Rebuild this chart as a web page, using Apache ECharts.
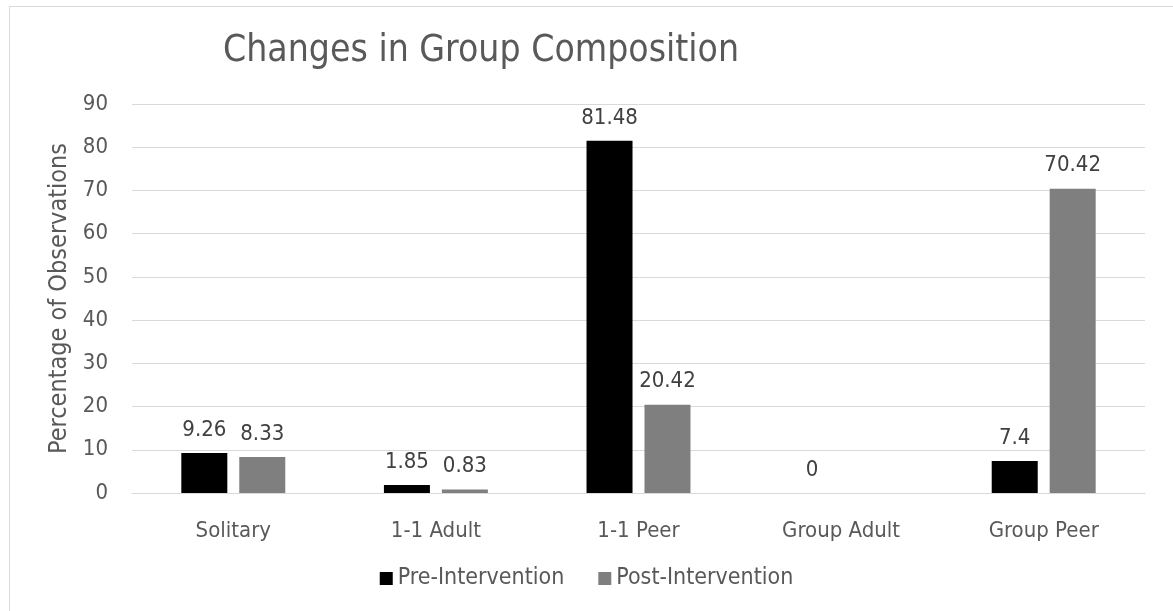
<!DOCTYPE html>
<html>
<head>
<meta charset="utf-8">
<script src="https://cdn.jsdelivr.net/npm/echarts@6/dist/echarts.min.js"></script>
<style>
  html, body { margin: 0; padding: 0; background: #fff; }
  #chart { width: 1173px; height: 611px; }
</style>
</head>
<body>
<div id="chart"></div>
<script>
// Group composition categories and percentages per phase
const categories = ['Solitary', '1-1 Adult', '1-1 Peer', 'Group Adult', 'Group Peer'];
const preIntervention = [9.26, 1.85, 81.48, 0, 7.4];
const postIntervention = [8.33, 0.83, 20.42, null, 70.42];
const yTicks = { min: 0, max: 90, interval: 10 };

const FONT = '"DejaVu Sans Condensed", "DejaVu Sans", sans-serif';
const chart = echarts.init(document.getElementById('chart'));

const labelStyle = {
  show: true,
  position: 'top',
  distance: 12,
  color: '#404040',
  fontFamily: FONT,
  fontSize: 22
};

chart.setOption({
  backgroundColor: '#ffffff',
  animation: false,
  title: {
    text: 'Changes in Group Composition',
    left: 218,
    top: 28,
    textStyle: { fontFamily: FONT, fontSize: 37, fontWeight: 'normal', color: '#595959' }
  },
  graphic: [{
    type: 'rect',
    shape: { x: 9.5, y: 6.5, width: 1300, height: 800 },
    style: { fill: 'none', stroke: '#d9d9d9', lineWidth: 1 },
    silent: true,
    z: -1
  }],
  legend: {
    bottom: 16,
    left: 'center',
    itemWidth: 13,
    itemHeight: 13,
    itemGap: 34,
    icon: 'rect',
    textStyle: { fontFamily: FONT, fontSize: 23, color: '#595959' },
    data: ['Pre-Intervention', 'Post-Intervention']
  },
  grid: { left: 132, right: 28, top: 104, bottom: 118 },
  xAxis: {
    type: 'category',
    data: categories,
    axisLine: { lineStyle: { color: '#d9d9d9', width: 1 } },
    axisTick: { show: false },
    axisLabel: { fontFamily: FONT, fontSize: 22, color: '#595959', margin: 27 }
  },
  yAxis: {
    type: 'value',
    min: yTicks.min,
    max: yTicks.max,
    interval: yTicks.interval,
    name: 'Percentage of Observations',
    nameLocation: 'middle',
    nameGap: 60,
    nameTextStyle: { fontFamily: FONT, fontSize: 25, color: '#595959' },
    axisLine: { show: false },
    axisTick: { show: false },
    axisLabel: { fontFamily: FONT, fontSize: 22, color: '#595959', margin: 24 },
    splitLine: { lineStyle: { color: '#d9d9d9', width: 1 } }
  },
  series: [
    {
      name: 'Pre-Intervention',
      type: 'bar',
      data: preIntervention,
      barWidth: 46,
      barGap: '26%',
      itemStyle: { color: '#000000' },
      label: labelStyle
    },
    {
      name: 'Post-Intervention',
      type: 'bar',
      data: postIntervention,
      barWidth: 46,
      itemStyle: { color: '#7f7f7f' },
      label: labelStyle
    }
  ]
});
</script>
</body>
</html>
